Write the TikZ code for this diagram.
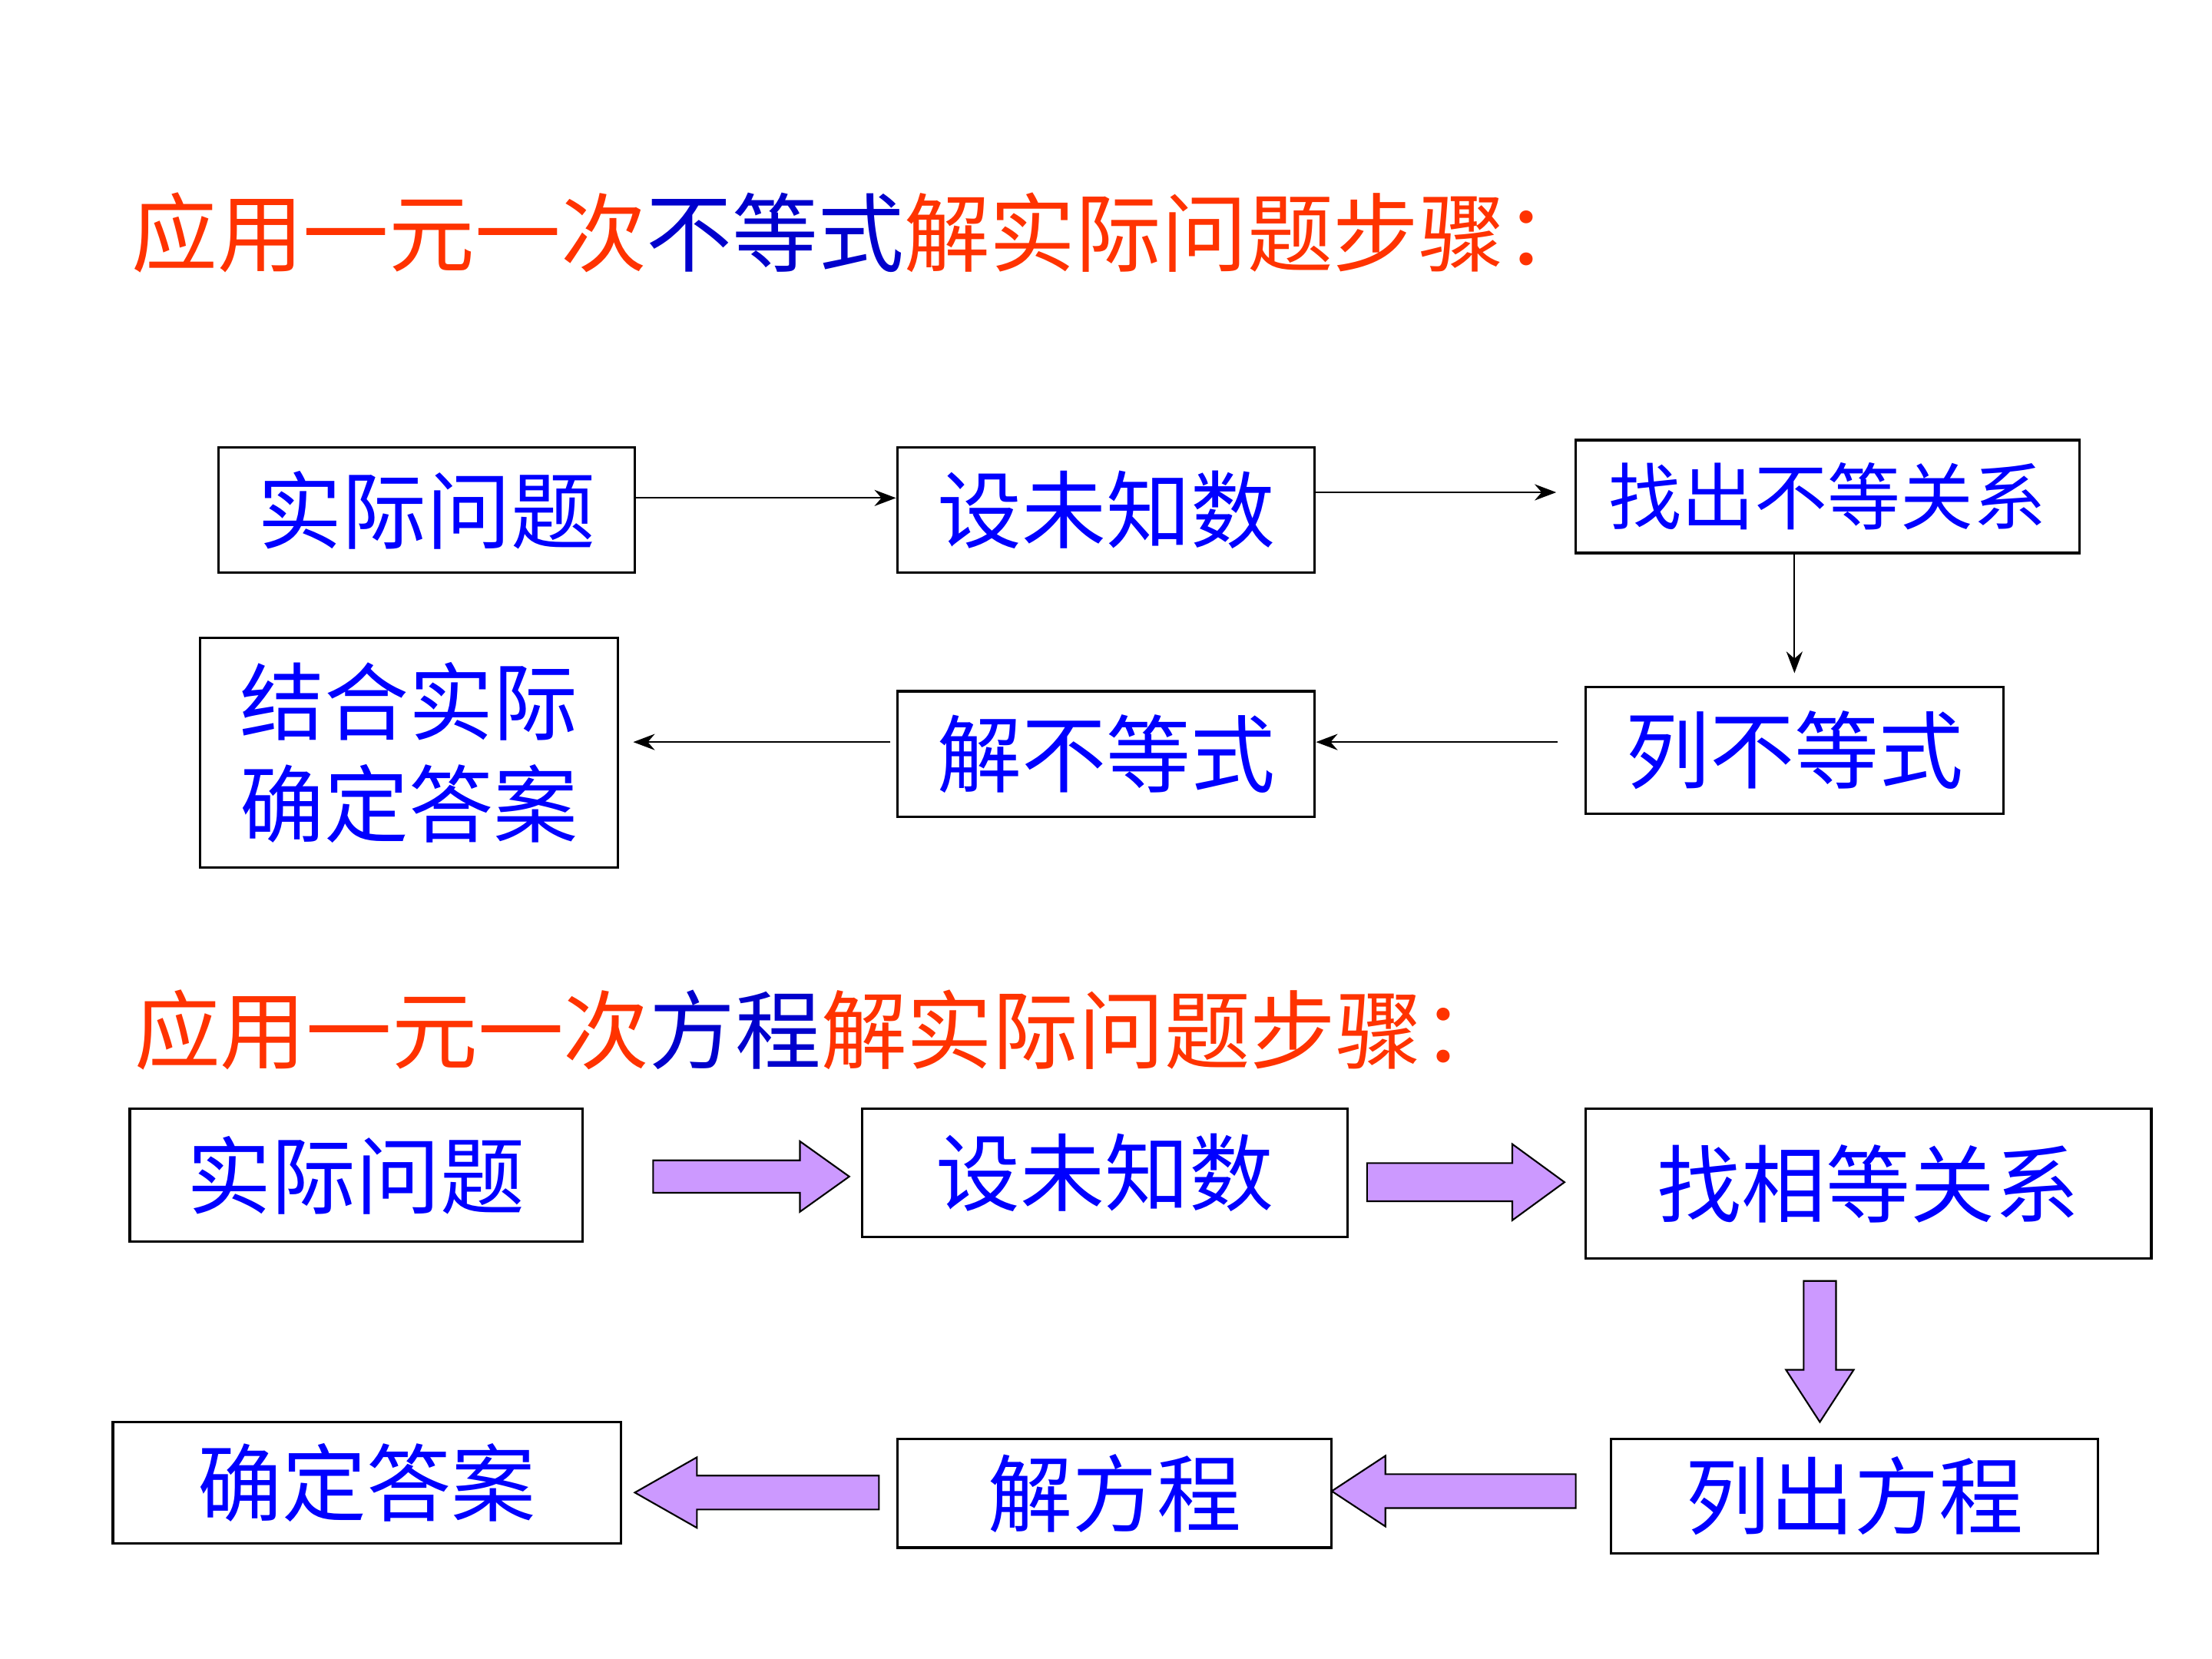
\documentclass[tikz,border=0pt]{standalone}
\usepackage{fontspec}
\newfontfamily\cjk{Noto Sans CJK SC}
\usetikzlibrary{arrows.meta,calc}
\definecolor{tred}{HTML}{FF3300}
\definecolor{tblue}{HTML}{0000CC}
\definecolor{bblue}{HTML}{0000FF}
\definecolor{fatfill}{HTML}{CC99FF}
\tikzset{
  box/.style={draw=black, line width=0.9pt, inner sep=0pt, text=bblue,
    font=\cjk\fontsize{31.3pt}{38pt}\selectfont, align=center},
  thin/.style={draw=black, line width=0.6pt, -{Stealth[length=8pt,width=6pt]}},
  fat/.style={draw=black, line width=0.6pt, fill=fatfill},
  ttl/.style={anchor=west, inner sep=0pt, font=\cjk\fontsize{31.8pt}{38pt}\selectfont}
}
% name x1 y1 x2 y2 text
\newcommand\bx[6]{\node[box, minimum width={(#4-#2)*0.018367cm}, minimum height={(#5-#3)*0.018367cm}] (#1) at ({(#2+#4)/2},{(#3+#5)/2}) {#6};}
% horizontal fat arrow: xs xe y h H xh
\newcommand\harr[6]{\draw[fat] ({#1},{#3-#4}) -- ({#6},{#3-#4}) -- ({#6},{#3-#5}) -- ({#2},{#3}) -- ({#6},{#3+#5}) -- ({#6},{#3+#4}) -- ({#1},{#3+#4}) -- cycle;}
% vertical fat arrow: x ys ye h H yh
\newcommand\varr[6]{\draw[fat] ({#1-#4},{#2}) -- ({#1-#4},{#6}) -- ({#1-#5},{#6}) -- ({#1},{#3}) -- ({#1+#5},{#6}) -- ({#1+#4},{#6}) -- ({#1+#4},{#2}) -- cycle;}
\begin{document}
\begin{tikzpicture}[x=0.018367cm, y=-0.018367cm]
\useasboundingbox (0,0) rectangle (1568,1176);
% titles
\node[ttl] (t1) at (93,165) {\textcolor{tred}{应用一元一次}\textcolor{tblue}{不等式}\textcolor{tred}{解实际问题步骤：}};
\node[ttl] (t2) at (95,730) {\textcolor{tred}{应用一元一次}\textcolor{tblue}{方程}\textcolor{tred}{解实际问题步骤：}};
% top flow
\bx{b1}{155}{317}{450}{406}{实际问题}
\bx{b2}{636}{317}{932}{406}{设未知数}
\node[box, font=\cjk\fontsize{27pt}{33pt}\selectfont, minimum width={(1474-1117)*0.018367cm}, minimum height={(392-312)*0.018367cm}] (b3) at ({(1117+1474)/2},{(312+392)/2}) {找出不等关系};
\bx{b4}{1124}{487}{1420}{577}{列不等式}
\bx{b5}{636}{490}{932}{579}{解不等式}
\bx{b6}{142}{452}{438}{615}{结合实际\\确定答案}
\draw[thin] (b1.east |- 0,353) -- (b2.west |- 0,353);
\draw[thin, shorten >=13*0.018367cm] (b2.east |- 0,349) -- (b3.west |- 0,349);
\draw[thin, shorten >=9*0.018367cm] (b4.north |- b3.south) -- (b4.north);
\draw[thin, shorten <=19*0.018367cm] (b4.west |- 0,526) -- (b5.east |- 0,526);
\draw[thin, shorten <=4*0.018367cm, shorten >=10*0.018367cm] (b5.west |- 0,526) -- (b6.east |- 0,526);
% bottom flow
\bx{c1}{92}{786}{413}{880}{实际问题}
\bx{c2}{611}{786}{955}{877}{设未知数}
\bx{c3}{1124}{786}{1525}{892}{找相等关系}
\bx{c4}{1142}{1020}{1487}{1101}{列出方程}
\bx{c5}{636}{1020}{944}{1097}{解方程}
\bx{c6}{80}{1008}{440}{1094}{确定答案}
\harr{463}{602}{834}{11.5}{25}{567}
\harr{969}{1109}{838}{13.5}{27}{1072}
\varr{1290}{908}{1008}{11.5}{24}{971}
\harr{1117}{944}{1057}{12}{25}{982}
\harr{623}{450}{1058}{12}{25}{494}
\end{tikzpicture}
\end{document}
